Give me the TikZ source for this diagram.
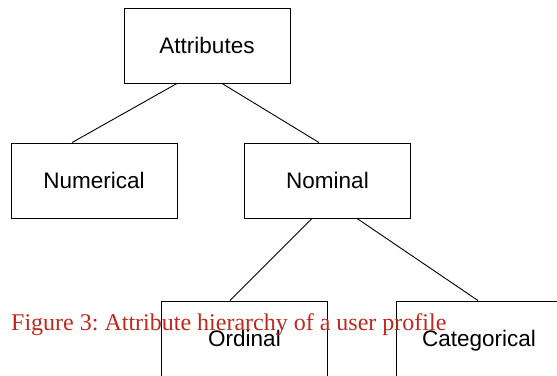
\documentclass[tikz,border=0pt]{standalone}
\usepackage{fontspec}
\setmainfont{Liberation Sans}
\newfontfamily\capfont{Liberation Serif}
\definecolor{capred}{RGB}{190,40,30}
\frenchspacing
\begin{document}
\begin{tikzpicture}[x=1pt,y=-1pt,
  box/.style={draw=black, line width=0.9pt, minimum width=166pt, minimum height=75pt,
    inner sep=0pt, text height=16pt, text depth=0pt, font=\fontsize{22.5}{26}\selectfont},
  link/.style={draw=black, line width=0.9pt}]
\useasboundingbox (0,0) rectangle (557,375);
\clip (0,0) rectangle (557,375);
\node[box] (attr) at (207,45.5) {Attributes};
\node[box] (num) at (94,180.5) {Numerical};
\node[box] (nom) at (327.5,180.5) {Nominal};
\node[box] (ord) at (244.5,338.5) {Ordinal};
\node[box] (cat) at (479,338.5) {Categorical};
\draw[link] ([xshift=-30pt]attr.south) -- ([xshift=-22pt]num.north);
\draw[link] ([xshift=15pt]attr.south) -- ([xshift=-8.5pt]nom.north);
\draw[link] ([xshift=-15.5pt]nom.south) -- ([xshift=-14.5pt]ord.north);
\draw[link] ([xshift=29.5pt]nom.south) -- ([xshift=-1pt]cat.north);
\node[anchor=base west, inner sep=0pt, text=capred, font=\capfont\fontsize{24}{28}\selectfont] (cap) at (11,330) {Figure 3: Attribute hierarchy of a user profile};
\end{tikzpicture}
\end{document}
